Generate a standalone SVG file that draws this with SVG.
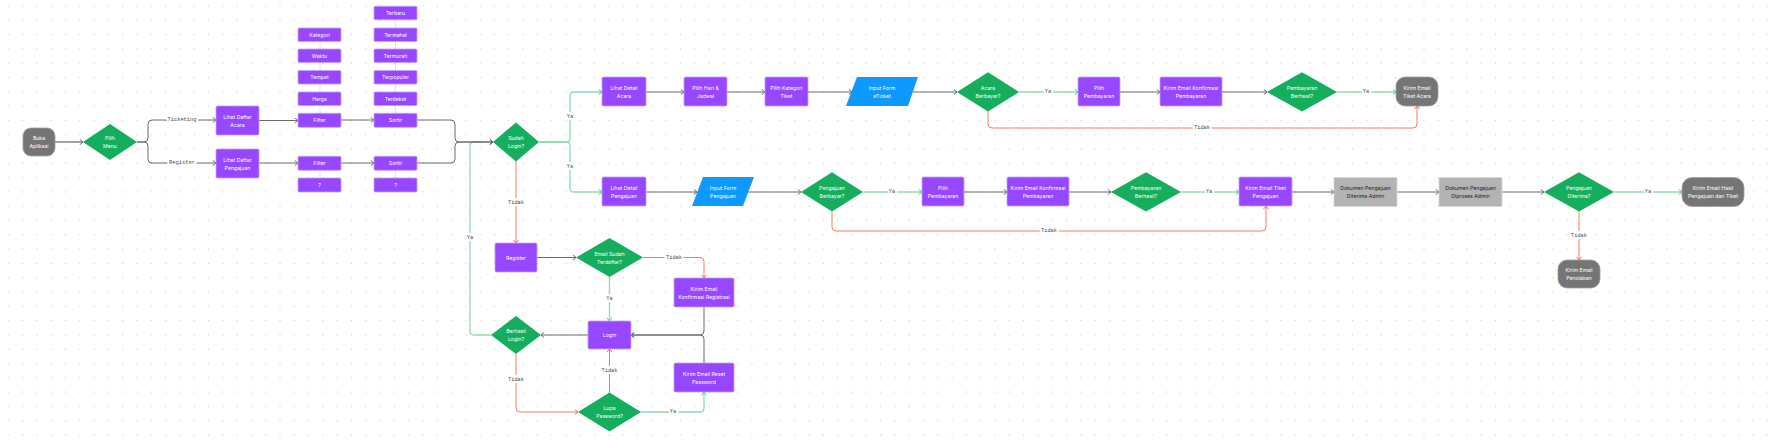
<svg xmlns="http://www.w3.org/2000/svg" width="1769" height="446" viewBox="0 0 1769 446">
<defs>
<pattern id="dots" patternUnits="userSpaceOnUse" x="1.15" y="-1.15" width="14.3" height="14.3"><circle cx="7.15" cy="7.15" r="0.7" fill="#cfcfcf"/></pattern>
<marker id="ag" viewBox="0 0 4 6" refX="3.6" refY="3" markerWidth="4" markerHeight="6" markerUnits="userSpaceOnUse" orient="auto"><path d="M0.4,0.4 L3.6,3 L0.4,5.6" fill="none" stroke="#5e5e5e" stroke-width="0.9"/></marker>
<marker id="agr" viewBox="0 0 4 6" refX="3.6" refY="3" markerWidth="4" markerHeight="6" markerUnits="userSpaceOnUse" orient="auto"><path d="M0.4,0.4 L3.6,3 L0.4,5.6" fill="none" stroke="#3fc07a" stroke-width="0.9"/></marker>
<marker id="ar" viewBox="0 0 4 6" refX="3.6" refY="3" markerWidth="4" markerHeight="6" markerUnits="userSpaceOnUse" orient="auto"><path d="M0.4,0.4 L3.6,3 L0.4,5.6" fill="none" stroke="#ef5f3f" stroke-width="0.9"/></marker>
<style>
.p{fill:#9747ff;stroke:#c4a0ff;stroke-width:0.8}
.g{fill:#14ae5c}
.b{fill:#0d99ff}
.d{fill:#757575;stroke:#a0a0a0;stroke-width:0.8}
.l{fill:#b3b3b3;stroke:#d6d6d6;stroke-width:0.8}
.t{font-family:Inter,"Noto Sans",sans-serif;font-size:5.2px;fill:#fff;text-anchor:middle;dominant-baseline:central}
.k{fill:#1e1e1e}
.lb{font-family:"Liberation Mono","DejaVu Sans Mono",monospace;font-size:5.4px;fill:#4a4a4a;text-anchor:middle;dominant-baseline:central;stroke:#fff;stroke-width:4;paint-order:stroke}
.cg{fill:none;stroke:#6a6a6a;stroke-width:1;marker-end:url(#ag)}
.cn{fill:none;stroke:#6a6a6a;stroke-width:1}
.cgr{fill:none;stroke:#8fdcae;stroke-width:1.3;marker-end:url(#agr)}
.cgn{fill:none;stroke:#8fdcae;stroke-width:1.3}
.cr{fill:none;stroke:#f47a5c;stroke-width:1;marker-end:url(#ar)}
.st{stroke:#dcdcdc;stroke-width:0.8}
</style>
</defs>
<rect width="1769" height="446" fill="#fff"/>
<rect width="1769" height="446" fill="url(#dots)"/>

<g id="connectors">
<!-- stack lines -->
<line class="st" x1="320" y1="41" x2="320" y2="113"/>
<line class="st" x1="320" y1="170" x2="320" y2="178"/>
<line class="st" x1="395.5" y1="20" x2="395.5" y2="113"/>
<line class="st" x1="395.5" y1="170" x2="395.5" y2="178"/>

<path d="M55,142 H83" fill="none" stroke="#9a9a9a" stroke-width="1.8" marker-end="url(#ag)"/>
<path class="cg" d="M137,142 H144 Q148,142 148,138 V124 Q148,120 152,120 H216"/>
<path class="cg" d="M137,142 H144 Q148,142 148,146 V159 Q148,163 152,163 H216"/>
<path class="cg" d="M259,120.5 H298"/>
<path class="cg" d="M259,163 H298"/>
<path class="cg" d="M341,120 H374"/>
<path class="cg" d="M341,163 H374"/>
<path class="cgn" d="M491,335 H474 Q470,335 470,331 V146 Q470,142 474,142 H482"/>
<path class="cg" d="M417,120 H451 Q455,120 455,124 V138 Q455,142 459,142 H493"/>
<path class="cg" d="M417,163 H451 Q455,163 455,159 V146 Q455,142 459,142 H493"/>

<path class="cgr" d="M539,142 H566 Q570,142 570,138 V96 Q570,92 574,92 H602"/>
<path class="cgr" d="M539,142 H566 Q570,142 570,146 V188 Q570,192 574,192 H602"/>
<path class="cr" d="M516,161 V243"/>

<path class="cg" d="M646,92 H684"/>
<path class="cg" d="M727,92 H765"/>
<path class="cg" d="M808,92 H852"/>
<path class="cg" d="M913,92 H957"/>
<path class="cgr" d="M1019,92 H1078"/>
<path class="cg" d="M1120,92 H1160"/>
<path class="cg" d="M1222,92 H1267"/>
<path class="cgr" d="M1337,92 H1396"/>
<path class="cr" d="M988,111 V124 Q988,128 992,128 H1413 Q1417,128 1417,124 V106"/>

<path class="cg" d="M646,192 H697"/>
<path class="cg" d="M748,192 H801"/>
<path class="cgr" d="M863,192 H922"/>
<path class="cg" d="M964,192 H1007"/>
<path class="cg" d="M1069,192 H1111"/>
<path class="cgr" d="M1181,192 H1239"/>
<path class="cg" d="M1292,192 H1334"/>
<path class="cg" d="M1397,192 H1439"/>
<path class="cg" d="M1502,192 H1544"/>
<path class="cgr" d="M1614,192 H1682"/>
<path class="cr" d="M1579,211.5 V260"/>
<path class="cr" d="M832,211.5 V227 Q832,231 836,231 H1262 Q1266,231 1266,227 V206"/>

<path class="cg" d="M537,257.5 H576"/>
<path class="cr" d="M643,257.5 H700 Q704,257.5 704,261.5 V278"/>
<path class="cgr" d="M609.5,277 V321"/>
<path class="cg" d="M704,307 V331 Q704,335 700,335 H631"/>
<path class="cg" d="M704,363 V339 Q704,335 700,335 H631"/>
<path class="cg" d="M588,335 H541"/>
<path class="cr" d="M516,354 V408 Q516,412 520,412 H578"/>
<path class="cr" d="M609.5,392.5 V349"/>
<path class="cgr" d="M641,412 H700 Q704,412 704,408 V392"/>

<text class="lb" x="182" y="120">Ticketing</text>
<text class="lb" x="182" y="163">Register</text>
<text class="lb" x="570" y="117">Ya</text>
<text class="lb" x="570" y="167">Ya</text>
<text class="lb" x="516" y="203">Tidak</text>
<text class="lb" x="470" y="238">Ya</text>
<text class="lb" x="1048" y="92">Ya</text>
<text class="lb" x="1366" y="92">Ya</text>
<text class="lb" x="1202" y="128">Tidak</text>
<text class="lb" x="892" y="192">Ya</text>
<text class="lb" x="1209" y="192">Ya</text>
<text class="lb" x="1049" y="231">Tidak</text>
<text class="lb" x="1648" y="192">Ya</text>
<text class="lb" x="1579" y="236">Tidak</text>
<text class="lb" x="674" y="257.5">Tidak</text>
<text class="lb" x="609.5" y="299">Ya</text>
<text class="lb" x="516" y="380">Tidak</text>
<text class="lb" x="609.5" y="371">Tidak</text>
<text class="lb" x="673" y="412">Ya</text>
</g>

<g id="buka-aplikasi"><rect class="d" x="23" y="128" width="32" height="28" rx="8"/><text class="t"><tspan x="39" y="138">Buka</tspan><tspan x="39" y="146.2">Aplikasi</tspan></text></g>
<g id="pilih-menu"><polygon class="g" points="110,124 137,142 110,160 83,142"/><text class="t"><tspan x="110" y="138">Pilih</tspan><tspan x="110" y="146.2">Menu</tspan></text></g>
<g id="lihat-daftar-acara"><rect class="p" x="216" y="106" width="43" height="29" rx="1.5"/><text class="t"><tspan x="237.5" y="116.5">Lihat Daftar</tspan><tspan x="237.5" y="124.7">Acara</tspan></text></g>
<g id="lihat-daftar-pengajuan"><rect class="p" x="216" y="149" width="43" height="29" rx="1.5"/><text class="t"><tspan x="237.5" y="159.5">Lihat Daftar</tspan><tspan x="237.5" y="167.7">Pengajuan</tspan></text></g>

<g id="kategori"><rect class="p" x="298" y="28" width="43" height="13.5" rx="1.2"/><text class="t" x="319.5" y="34.8">Kategori</text></g>
<g id="waktu"><rect class="p" x="298" y="49" width="43" height="13.5" rx="1.2"/><text class="t" x="319.5" y="55.8">Waktu</text></g>
<g id="tempat"><rect class="p" x="298" y="70.5" width="43" height="13.5" rx="1.2"/><text class="t" x="319.5" y="77.3">Tempat</text></g>
<g id="harga"><rect class="p" x="298" y="92" width="43" height="13.5" rx="1.2"/><text class="t" x="319.5" y="98.8">Harga</text></g>
<g id="filter-acara"><rect class="p" x="298" y="113.3" width="43" height="14" rx="1.2"/><text class="t" x="319.5" y="120.3">Filter</text></g>
<g id="filter-pengajuan"><rect class="p" x="298" y="156.3" width="43" height="14" rx="1.2"/><text class="t" x="319.5" y="163.3">Filter</text></g>
<g id="filter-q"><rect class="p" x="298" y="178" width="43" height="14" rx="1.2"/><text class="t" x="319.5" y="185">?</text></g>

<g id="terbaru"><rect class="p" x="374" y="6.3" width="43" height="13.5" rx="1.2"/><text class="t" x="395.5" y="13">Terbaru</text></g>
<g id="termahal"><rect class="p" x="374" y="28" width="43" height="13.5" rx="1.2"/><text class="t" x="395.5" y="34.8">Termahal</text></g>
<g id="termurah"><rect class="p" x="374" y="49" width="43" height="13.5" rx="1.2"/><text class="t" x="395.5" y="55.8">Termurah</text></g>
<g id="terpopuler"><rect class="p" x="374" y="70.5" width="43" height="13.5" rx="1.2"/><text class="t" x="395.5" y="77.3">Terpopuler</text></g>
<g id="terdekat"><rect class="p" x="374" y="92" width="43" height="13.5" rx="1.2"/><text class="t" x="395.5" y="98.8">Terdekat</text></g>
<g id="sortir-acara"><rect class="p" x="374" y="113.3" width="43" height="14" rx="1.2"/><text class="t" x="395.5" y="120.3">Sortir</text></g>
<g id="sortir-pengajuan"><rect class="p" x="374" y="156.3" width="43" height="14" rx="1.2"/><text class="t" x="395.5" y="163.3">Sortir</text></g>
<g id="sortir-q"><rect class="p" x="374" y="178" width="43" height="14" rx="1.2"/><text class="t" x="395.5" y="185">?</text></g>

<g id="sudah-login"><polygon class="g" points="516,122.5 539,142 516,161.5 493,142"/><text class="t"><tspan x="516" y="138">Sudah</tspan><tspan x="516" y="146.2">Login?</tspan></text></g>

<g id="lihat-detail-acara"><rect class="p" x="602" y="77" width="44" height="29" rx="1.5"/><text class="t"><tspan x="624" y="87.8">Lihat Detail</tspan><tspan x="624" y="96">Acara</tspan></text></g>
<g id="pilih-hari"><rect class="p" x="684" y="77" width="43" height="29" rx="1.5"/><text class="t"><tspan x="705.5" y="87.8">Pilih Hari &amp;</tspan><tspan x="705.5" y="96">Jadwal</tspan></text></g>
<g id="pilih-kategori"><rect class="p" x="765" y="77" width="43" height="29" rx="1.5"/><text class="t"><tspan x="786.5" y="87.8">Pilih Kategori</tspan><tspan x="786.5" y="96">Tiket</tspan></text></g>
<g id="input-eticket"><polygon class="b" points="857,77 918,77 908,106 846,106"/><text class="t"><tspan x="882" y="87.8">Input Form</tspan><tspan x="882" y="96">eTicket</tspan></text></g>
<g id="acara-berbayar"><polygon class="g" points="988,72.3 1019,92 988,111.5 957,92"/><text class="t"><tspan x="988" y="87.8">Acara</tspan><tspan x="988" y="96">Berbayar?</tspan></text></g>
<g id="pilih-pembayaran-1"><rect class="p" x="1078" y="77" width="42" height="29" rx="1.5"/><text class="t"><tspan x="1099" y="87.8">Pilih</tspan><tspan x="1099" y="96">Pembayaran</tspan></text></g>
<g id="konfirmasi-pembayaran-1"><rect class="p" x="1160" y="77" width="62" height="29" rx="1.5"/><text class="t"><tspan x="1191" y="87.8">Kirim Email Konfirmasi</tspan><tspan x="1191" y="96">Pembayaran</tspan></text></g>
<g id="pembayaran-berhasil-1"><polygon class="g" points="1302,72.3 1337,92 1302,111.5 1267,92"/><text class="t"><tspan x="1302" y="87.8">Pembayaran</tspan><tspan x="1302" y="96">Berhasil?</tspan></text></g>
<g id="tiket-acara"><rect class="d" x="1396" y="77" width="42" height="29" rx="9"/><text class="t"><tspan x="1417" y="87.8">Kirim Email</tspan><tspan x="1417" y="96">Tiket Acara</tspan></text></g>

<g id="lihat-detail-pengajuan"><rect class="p" x="602" y="177" width="44" height="29" rx="1.5"/><text class="t"><tspan x="624" y="187.8">Lihat Detail</tspan><tspan x="624" y="196">Pengajuan</tspan></text></g>
<g id="input-pengajuan"><polygon class="b" points="703,177 754,177 743,206 692,206"/><text class="t"><tspan x="723" y="187.8">Input Form</tspan><tspan x="723" y="196">Pengajuan</tspan></text></g>
<g id="pengajuan-berbayar"><polygon class="g" points="832,172.3 863,192 832,211.5 801,192"/><text class="t"><tspan x="832" y="187.8">Pengajuan</tspan><tspan x="832" y="196">Berbayar?</tspan></text></g>
<g id="pilih-pembayaran-2"><rect class="p" x="922" y="177" width="42" height="29" rx="1.5"/><text class="t"><tspan x="943" y="187.8">Pilih</tspan><tspan x="943" y="196">Pembayaran</tspan></text></g>
<g id="konfirmasi-pembayaran-2"><rect class="p" x="1007" y="177" width="62" height="29" rx="1.5"/><text class="t"><tspan x="1038" y="187.8">Kirim Email Konfirmasi</tspan><tspan x="1038" y="196">Pembayaran</tspan></text></g>
<g id="pembayaran-berhasil-2"><polygon class="g" points="1146,172.3 1181,192 1146,211.5 1111,192"/><text class="t"><tspan x="1146" y="187.8">Pembayaran</tspan><tspan x="1146" y="196">Berhasil?</tspan></text></g>
<g id="tiket-pengajuan"><rect class="p" x="1239" y="177" width="53" height="29" rx="1.5"/><text class="t"><tspan x="1265.5" y="187.8">Kirim Email Tiket</tspan><tspan x="1265.5" y="196">Pengajuan</tspan></text></g>
<g id="dokumen-diterima"><rect class="l" x="1334" y="177.5" width="63" height="29" rx="1"/><text class="t k"><tspan x="1365.5" y="188">Dokumen Pengajuan</tspan><tspan x="1365.5" y="196.2">Diterima Admin</tspan></text></g>
<g id="dokumen-diproses"><rect class="l" x="1439" y="177.5" width="63" height="29" rx="1"/><text class="t k"><tspan x="1470.5" y="188">Dokumen Pengajuan</tspan><tspan x="1470.5" y="196.2">Diproses Admin</tspan></text></g>
<g id="pengajuan-diterima"><polygon class="g" points="1579,172.3 1614,192 1579,211.5 1544,192"/><text class="t"><tspan x="1579" y="187.8">Pengajuan</tspan><tspan x="1579" y="196">Diterima?</tspan></text></g>
<g id="hasil-pengajuan"><rect class="d" x="1682" y="177.5" width="62" height="29" rx="10"/><text class="t"><tspan x="1713" y="188">Kirim Email Hasil</tspan><tspan x="1713" y="196.2">Pengajuan dan Tiket</tspan></text></g>
<g id="penolakan"><rect class="d" x="1558" y="260" width="42" height="28" rx="9"/><text class="t"><tspan x="1579" y="270">Kirim Email</tspan><tspan x="1579" y="278.2">Penolakan</tspan></text></g>

<g id="register"><rect class="p" x="495" y="243" width="42" height="29" rx="1.5"/><text class="t" x="516" y="257.5">Register</text></g>
<g id="email-terdaftar"><polygon class="g" points="609.5,238 643,257.5 609.5,277 576,257.5"/><text class="t"><tspan x="609.5" y="253.5">Email Sudah</tspan><tspan x="609.5" y="261.7">Terdaftar?</tspan></text></g>
<g id="konfirmasi-registrasi"><rect class="p" x="674" y="278" width="60" height="29" rx="1.5"/><text class="t"><tspan x="704" y="288.5">Kirim Email</tspan><tspan x="704" y="296.7">Konfirmasi Registrasi</tspan></text></g>
<g id="login"><rect class="p" x="588" y="321" width="43" height="28" rx="1.5"/><text class="t" x="609.5" y="335">Login</text></g>
<g id="berhasil-login"><polygon class="g" points="516,316 541,335 516,354 491,335"/><text class="t"><tspan x="516" y="331">Berhasil</tspan><tspan x="516" y="339.2">Login?</tspan></text></g>
<g id="reset-password"><rect class="p" x="674" y="363" width="60" height="29" rx="1.5"/><text class="t"><tspan x="704" y="373.5">Kirim Email Reset</tspan><tspan x="704" y="381.7">Password</tspan></text></g>
<g id="lupa-password"><polygon class="g" points="609.5,392.5 641,412 609.5,431.5 578,412"/><text class="t"><tspan x="609.5" y="408">Lupa</tspan><tspan x="609.5" y="416.2">Password?</tspan></text></g>
</svg>
